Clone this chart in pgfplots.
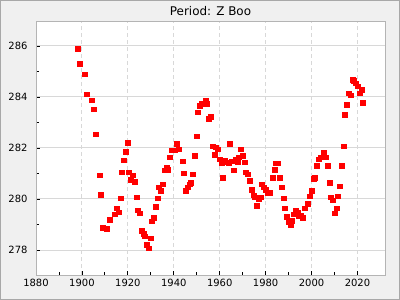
\documentclass[border=0pt]{standalone}
\usepackage{fontspec}
\setmainfont{DejaVu Sans}
\usepackage{pgfplots}
\pgfplotsset{compat=1.18}
\definecolor{bgc}{HTML}{F0F0F0}
\definecolor{framec}{HTML}{A8A8A8}
\definecolor{axc}{HTML}{B4B4B4}
\definecolor{gridc}{HTML}{D8D8D8}
\begin{document}
\begin{tikzpicture}
\useasboundingbox (0,0) rectangle (400bp,300bp);
\fill[bgc] (0,0) rectangle (400bp,300bp);
\draw[framec, line width=1bp] (0.5bp,0.5bp) rectangle (399.5bp,299.5bp);
\begin{axis}[
  at={(36bp,25bp)}, anchor=south west,
  width=349bp, height=253bp, scale only axis,
  xmin=1880, xmax=2032, ymin=277.02, ymax=286.94,
  axis background/.style={fill=white},
  axis line style={axc, line width=1bp},
  xtick={1880,1900,...,2020}, ytick={278,280,...,286},
  minor x tick num=1, minor y tick num=1,
  xtick pos=bottom, ytick pos=left, tick align=inside,
  major tick length=4bp, minor tick length=3bp,
  tick style={black, line width=0.8bp},
  xmajorgrids, ymajorgrids,
  x grid style={gridc, dash pattern=on 4bp off 3bp, line width=1bp},
  y grid style={gridc, solid, line width=1bp},
  /pgf/number format/assume math mode=true,
  /pgf/number format/1000 sep={},
  tick label style={font=\fontsize{10}{12}\selectfont},
  xticklabel style={yshift=-1bp},
  yticklabel style={xshift=-5bp},
  title={Period: Z Boo},
  title style={at={(0.5,1)}, anchor=base, yshift=1bp, font=\fontsize{12}{14}\selectfont},
  clip=false,
]
\addplot[only marks, mark=square*, mark size=2.4bp, red, mark options={draw=red, fill=red}] coordinates {
(1898.26,285.88) (1899.13,285.32) (1901.30,284.89) (1902.17,284.11) (1904.35,283.87)
(1905.22,283.52) (1906.09,282.54) (1907.83,280.93) (1908.26,280.18) (1909.13,278.89)
(1910.87,278.85) (1912.17,279.20) (1914.35,279.40) (1915.22,279.64) (1916.09,279.48)
(1916.96,280.03) (1917.39,281.05) (1918.26,281.52) (1919.13,281.87) (1920.00,282.22)
(1920.43,281.05) (1921.30,280.77) (1922.17,280.93) (1923.04,280.69) (1923.91,280.07)
(1924.35,279.56) (1925.22,279.44) (1926.09,278.77) (1926.96,278.65) (1927.39,278.54)
(1928.26,278.22) (1929.13,278.07) (1930.00,278.46) (1930.43,279.13) (1931.30,279.28)
(1932.17,279.71) (1933.04,280.03) (1933.48,280.46) (1934.35,280.34) (1935.22,280.58)
(1936.09,281.13) (1936.96,281.24) (1937.39,281.16) (1938.26,281.64) (1939.13,281.91)
(1940.43,281.91) (1941.30,282.18) (1942.17,281.95) (1943.91,281.48) (1944.35,281.01)
(1945.22,280.34) (1946.09,280.46) (1946.96,280.58) (1947.39,280.65) (1948.26,280.97)
(1949.13,281.71) (1950.00,282.46) (1950.43,283.40) (1951.30,283.67) (1952.17,283.75)
(1953.04,283.75) (1953.91,283.87) (1954.35,283.75) (1955.22,283.16) (1956.09,283.24)
(1956.96,282.07) (1957.83,281.75) (1958.26,282.03) (1959.13,281.95) (1960.00,281.56)
(1960.87,281.40) (1961.30,280.85) (1962.17,281.52) (1963.04,281.44) (1963.91,281.40)
(1964.35,282.18) (1965.22,281.48) (1966.09,281.13) (1966.96,281.56) (1967.83,281.44)
(1968.26,281.64) (1969.13,281.95) (1970.00,281.71) (1970.87,281.44) (1971.30,281.05)
(1972.17,280.97) (1973.04,280.73) (1973.91,280.38) (1974.78,280.15) (1975.22,280.07)
(1976.09,279.75) (1976.96,279.99) (1977.83,280.07) (1978.26,280.58) (1979.13,280.46)
(1980.00,280.38) (1980.87,280.26) (1981.74,280.26) (1983.04,280.85) (1983.91,281.16)
(1984.35,281.40) (1985.22,281.40) (1986.09,280.85) (1986.96,280.46) (1987.83,280.03)
(1988.26,279.64) (1989.13,279.32) (1990.00,279.09) (1990.87,278.97) (1991.30,279.16)
(1992.17,279.40) (1993.04,279.56) (1993.91,279.48) (1994.35,279.36) (1995.22,279.36)
(1996.09,279.28) (1996.96,279.64) (1998.26,279.83) (1999.13,280.11) (2000.00,280.34)
(2000.87,280.81) (2001.48,280.85) (2002.17,281.32) (2003.04,281.56) (2003.91,281.64)
(2005.22,281.83) (2006.09,281.64) (2006.96,281.32) (2007.83,280.65) (2008.26,280.07)
(2009.13,279.95) (2010.00,279.44) (2010.87,279.64) (2011.30,280.11) (2012.17,280.50)
(2013.04,281.32) (2013.91,282.07) (2014.35,283.32) (2015.22,283.71) (2016.09,284.15)
(2016.96,284.07) (2017.83,284.69) (2018.26,284.65) (2019.13,284.54) (2020.00,284.42)
(2020.87,284.15) (2021.74,284.30) (2022.17,283.79)
};
\end{axis}
\end{tikzpicture}
\end{document}
